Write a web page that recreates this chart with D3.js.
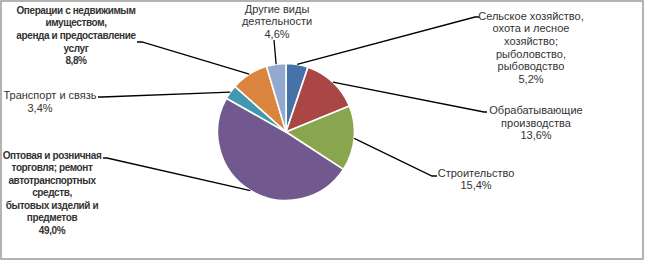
<!DOCTYPE html>
<html><head><meta charset="utf-8">
<script src="https://cdn.jsdelivr.net/npm/d3@7"></script>
<style>body{margin:0;background:#fff}svg{display:block}</style>
</head><body>
<svg id="c" width="645" height="261"></svg>
<script>
// Data
const categories = [
  "Сельское хозяйство, охота и лесное хозяйство; рыболовство, рыбоводство",
  "Обрабатывающие производства",
  "Строительство",
  "Оптовая и розничная торговля; ремонт автотранспортных средств, бытовых изделий и предметов",
  "Транспорт и связь",
  "Операции с недвижимым имуществом, аренда и предоставление услуг",
  "Другие виды деятельности"
];
const values = [5.2, 13.6, 15.4, 49.0, 3.4, 8.8, 4.6];
const labelLines = [
  ["Сельское хозяйство,", "охота и лесное", "хозяйство;", "рыболовство,", "рыбоводство"],
  ["Обрабатывающие", "производства"],
  ["Строительство"],
  ["Оптовая и розничная", "торговля; ремонт", "автотранспортных", "средств,", "бытовых изделий и", "предметов"],
  ["Транспорт и связь"],
  ["Операции с недвижимым", "имуществом,", "аренда и предоставление", "услуг"],
  ["Другие виды", "деятельности"]
];
const colors = ["#4572A7", "#AA4643", "#89A54E", "#71588F", "#4198AF", "#DB843D", "#93A9CF"];

// Layout (label boxes and leader-line ends)
const layout = [
  {cx: 531, y0: 16, bold: false, lh: 12.6, end: [475, 17], tip: [479, 17]},
  {cx: 536, y0: 110, bold: false, lh: 12.8, end: [484, 112], tip: [487, 112]},
  {cx: 476, y0: 173, bold: false, lh: 12.6, end: [432, 176], tip: [437, 176]},
  {cx: 52, y0: 155, bold: true, lh: 12.5, end: [107, 158], tip: [103, 158]},
  {cx: 50, pcx: 40, y0: 95, bold: false, lh: 12.8, end: [102, 97], tip: [98, 97]},
  {cx: 76, y0: 10, bold: true, lh: 12.7, end: [142, 42], tip: [137, 42]},
  {cx: 277, y0: 9, bold: false, lh: 12.4, end: [274, 40], tip: [274, 40]}
];

const svg = d3.select("#c");
svg.append("rect").attr("x", 1).attr("y", 1).attr("width", 642).attr("height", 258)
  .attr("fill", "#fff").attr("stroke", "#9a9a9a").attr("stroke-width", 1.5);

const cx = 286, cy = 132, R = 68.5;
const pie = d3.pie().sort(null).value(d => d)(values);
const arc = d3.arc().innerRadius(0).outerRadius(R);
const g = svg.append("g").attr("transform", `translate(${cx},${cy})`);
g.selectAll("path").data(pie).join("path")
  .attr("d", arc).attr("fill", (d, i) => colors[i])
  .attr("stroke", "#fff").attr("stroke-width", 1.6).attr("stroke-linejoin", "round");

const fmt = v => d3.format(".1f")(v).replace(".", ",") + "%";

pie.forEach((d, i) => {
  const a = (d.startAngle + d.endAngle) / 2;
  const sx = cx + R * Math.sin(a), sy = cy - R * Math.cos(a);
  const L = layout[i];
  svg.append("polyline")
    .attr("points", [[sx, sy], L.end, L.tip].map(p => p.join(",")).join(" "))
    .attr("fill", "none").attr("stroke", "#000").attr("stroke-width", 1.3);
  const lines = labelLines[i].concat([fmt(values[i])]);
  const t = svg.append("text")
    .attr("font-family", "'Liberation Sans', Arial, sans-serif")
    .attr("font-size", L.bold ? 10 : 11)
    .attr("font-weight", L.bold ? "bold" : "normal")
    .attr("letter-spacing", L.bold ? "-0.4px" : "0px")
    .attr("fill", "#333").attr("text-anchor", "middle");
  lines.forEach((s, k) => {
    const x = (k === lines.length - 1 && L.pcx !== undefined) ? L.pcx : L.cx;
    t.append("tspan").attr("x", x).attr("y", L.y0 + k * L.lh).attr("dy", "0.35em").text(s);
  });
});
</script>
</body></html>
